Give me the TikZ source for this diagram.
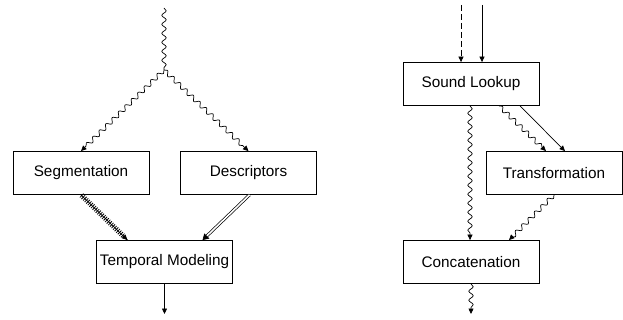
\documentclass[tikz,border=0pt]{standalone}
\usepackage{fontspec}
\setmainfont{Liberation Sans}
\usetikzlibrary{arrows.meta,decorations.pathmorphing,decorations.pathreplacing,decorations.markings}
\begin{document}
\begin{tikzpicture}[x=1pt,y=-1pt,
  box/.style={draw, line width=0.8pt, minimum width=136pt, minimum height=43pt, inner sep=0pt, font=\fontsize{15.3}{18}\selectfont},
  tip/.style={-{Triangle[length=5.5pt,width=5pt]}},
  conn/.style={line width=0.7pt},
  wave/.style={conn, tip, decorate, decoration={snake, amplitude=2.2pt, segment length=9pt, post length=4pt}},
  wavenotip/.style={conn, decorate, decoration={snake, amplitude=2.2pt, segment length=9pt}},
  ticksdeco/.style={line width=0.8pt, decorate, decoration={ticks, segment length=2.2pt, amplitude=2.6pt, pre length=1pt, post length=6pt}},
  dbl/.style={conn, double, double distance=1.6pt, -{Triangle[length=6pt,width=7pt]}}
]
\useasboundingbox (0,0) rectangle (623,320);
% left diagram
\coordinate (ltop) at (164,8);
\coordinate (lsplit) at (164,70);
\node[box] (seg) at (81,173) {Segmentation};
\node[box] (desc) at (248.5,173) {Descriptors};
\node[box] (tm) at (164.5,262) {Temporal Modeling};
\coordinate (lout) at (164.5,314);
\draw[wavenotip] (ltop) -- (lsplit);
\draw[wave] (lsplit) -- (seg.north);
\draw[wave] (lsplit) -- (desc.north);
\draw[conn, tip] (seg.south) -- ([xshift=-37pt]tm.north);
\path[draw, ticksdeco] (seg.south) -- ([xshift=-37pt]tm.north);
\draw[dbl] ([xshift=1pt]desc.south) -- ([xshift=38pt]tm.north);
\draw[conn, tip] (tm.south) -- (lout);
% right diagram
\coordinate (rtopa) at (461,5);
\coordinate (rtopb) at (482,5);
\node[box] (sl) at (471,84) {Sound Lookup};
\node[box] (tr) at (554,173) {Transformation};
\node[box] (cc) at (471,262) {Concatenation};
\coordinate (rout) at (471,314);
\draw[conn, tip, dashed, dash pattern=on 6pt off 3pt] (rtopa) -- ([xshift=-10pt]sl.north);
\draw[conn, tip] (rtopb) -- ([xshift=11pt]sl.north);
\draw[wave] ([xshift=-1pt]sl.south) -- ([xshift=-1pt]cc.north);
\draw[wave] ([xshift=28pt]sl.south) -- ([xshift=-8pt]tr.north);
\draw[conn, tip] ([xshift=49pt]sl.south) -- ([xshift=11pt]tr.north);
\draw[wave] (tr.south) -- ([xshift=38pt]cc.north);
\draw[wave] (cc.south) -- (rout);
\end{tikzpicture}
\end{document}
